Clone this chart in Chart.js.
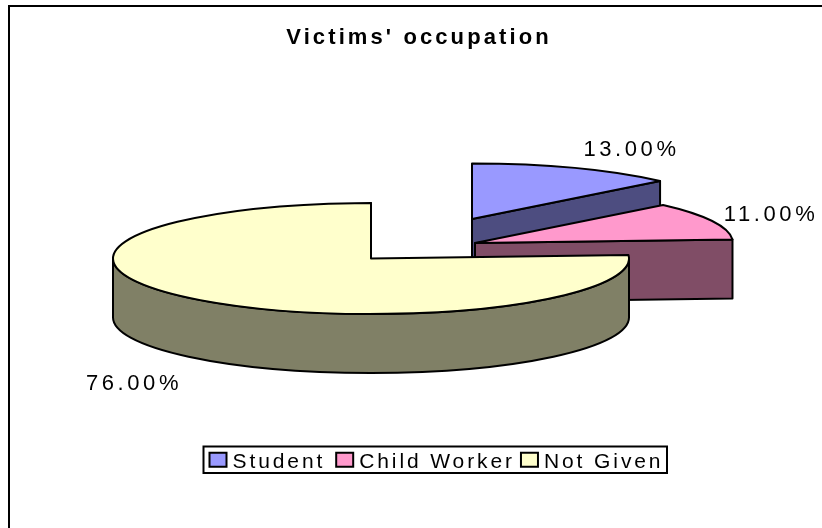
<!DOCTYPE html>
<html>
<head>
<meta charset="utf-8">
<style>html,body{margin:0;padding:0;background:#fff}#wrap{width:822px;height:528px;position:relative}</style>
<script src="https://cdn.jsdelivr.net/npm/chart.js@4"></script>
</head>
<body>
<div id="wrap"><canvas id="c" width="822" height="528"></canvas></div>
<script>
const chartTitle = "Victims' occupation";
const categories = ["Student", "Child Worker", "Not Given"];
const shares = [13, 11, 76];
const topColors = ["#9999FF", "#FF99CC", "#FFFFCC"];
const wallColors = ["#4D4D80", "#804D66", "#808066"];

const FONT = '"Liberation Sans", Arial, sans-serif';
const view = {
  squash: 0.215, depth: 59, lineWidth: 2,
  pieCentre: [371, 258.5],
  explode: [[101, -39.5], [104, -15.5], [0, 0]],
  labelCentre: [[631.5, 149.5], [771, 214.5], [134, 383.5]],
  labelFont: '22px ' + FONT, labelSpacing: '3.6px',
  legendFont: '21px ' + FONT, legendSpacing: '2.9px',
  legendBox: [203.5, 446.5, 463.5, 26.5],
  legendStartX: 209.5, legendPatch: [17, 14], legendGap: 6, legendItemGaps: [11, 6, 0]
};

function drawSlice(ctx, arc, i) {
  const ry = arc.outerRadius * view.squash, rx = arc.outerRadius, d = view.depth;
  const cx = view.pieCentre[0] + view.explode[i][0];
  const cy = view.pieCentre[1] + view.explode[i][1];
  const a0 = arc.startAngle, a1 = arc.endAngle;
  const px = a => cx + rx * Math.cos(a), py = a => cy + ry * Math.sin(a);
  ctx.lineWidth = view.lineWidth;
  ctx.lineJoin = 'round';
  ctx.strokeStyle = '#000';

  const paint = (fill) => { ctx.fillStyle = fill; ctx.fill(); ctx.stroke(); };
  const face = (a) => {
    ctx.beginPath();
    ctx.moveTo(cx, cy); ctx.lineTo(px(a), py(a));
    ctx.lineTo(px(a), py(a) + d); ctx.lineTo(cx, cy + d); ctx.closePath();
    paint(wallColors[i]);
  };
  if (Math.cos(a1) > -1e-6) face(a1);
  if (Math.cos(a0) < -1e-6) face(a0);

  const r0 = Math.max(a0, 0), r1 = Math.min(a1, Math.PI);
  if (r1 > r0) {
    ctx.beginPath();
    ctx.ellipse(cx, cy, rx, ry, 0, r0, r1);
    ctx.ellipse(cx, cy + d, rx, ry, 0, r1, r0, true);
    ctx.closePath();
    paint(wallColors[i]);
  }
  ctx.beginPath();
  ctx.moveTo(cx, cy);
  ctx.ellipse(cx, cy, rx, ry, 0, a0, a1);
  ctx.closePath();
  paint(topColors[i]);
}

const pie3d = {
  id: 'pie3d',
  beforeDraw(chart) {
    const ctx = chart.ctx;
    ctx.fillStyle = '#fff';
    ctx.fillRect(0, 0, chart.width, chart.height);
    ctx.fillStyle = '#000';
    ctx.fillRect(8, 5, chart.width - 8, 2);
    ctx.fillRect(8, 5, 2, chart.height - 5);
    ctx.letterSpacing = '3.1px';
  },
  beforeDatasetDraw(chart, args) {
    const ctx = chart.ctx;
    ctx.save();
    args.meta.data.forEach((arc, i) => drawSlice(ctx, arc, i));
    ctx.restore();
    return false;
  },
  afterDraw(chart) {
    const ctx = chart.ctx;
    ctx.save();
    ctx.letterSpacing = view.labelSpacing;
    ctx.font = view.labelFont;
    ctx.fillStyle = '#000';
    ctx.textBaseline = 'middle';
    ctx.textAlign = 'center';
    shares.forEach((v, i) => {
      ctx.fillText(v.toFixed(2) + '%', view.labelCentre[i][0], view.labelCentre[i][1]);
    });
    // legend
    const b = view.legendBox;
    ctx.letterSpacing = view.legendSpacing;
    ctx.font = view.legendFont;
    ctx.lineWidth = 2;
    ctx.strokeStyle = '#000';
    ctx.strokeRect(b[0], b[1], b[2], b[3]);
    ctx.textAlign = 'left';
    let x = view.legendStartX;
    const midY = b[1] + b[3] / 2;
    categories.forEach((name, i) => {
      const [w, h] = view.legendPatch;
      ctx.fillStyle = topColors[i];
      ctx.fillRect(x, midY - h / 2, w, h);
      ctx.strokeRect(x, midY - h / 2, w, h);
      ctx.fillStyle = '#000';
      const tx = x + w + view.legendGap;
      ctx.fillText(name, tx, midY + 2);
      x = tx + ctx.measureText(name).width + view.legendItemGaps[i];
    });
    ctx.restore();
  }
};

new Chart(document.getElementById('c'), {
  type: 'pie',
  data: {
    labels: categories,
    datasets: [{ data: shares, backgroundColor: topColors, borderColor: '#000', borderWidth: 2 }]
  },
  options: {
    responsive: false,
    animation: false,
    radius: 258,
    layout: { padding: { left: 16, right: 0, top: 15, bottom: 20 } },
    events: [],
    plugins: {
      legend: { display: false },
      tooltip: { enabled: false },
      title: {
        display: true,
        text: chartTitle,
        color: '#000',
        font: { family: FONT, size: 22, weight: 'bold', lineHeight: 1.2 },
        padding: { top: 10, bottom: 10 }
      }
    }
  },
  plugins: [pie3d]
});
</script>
</body>
</html>
